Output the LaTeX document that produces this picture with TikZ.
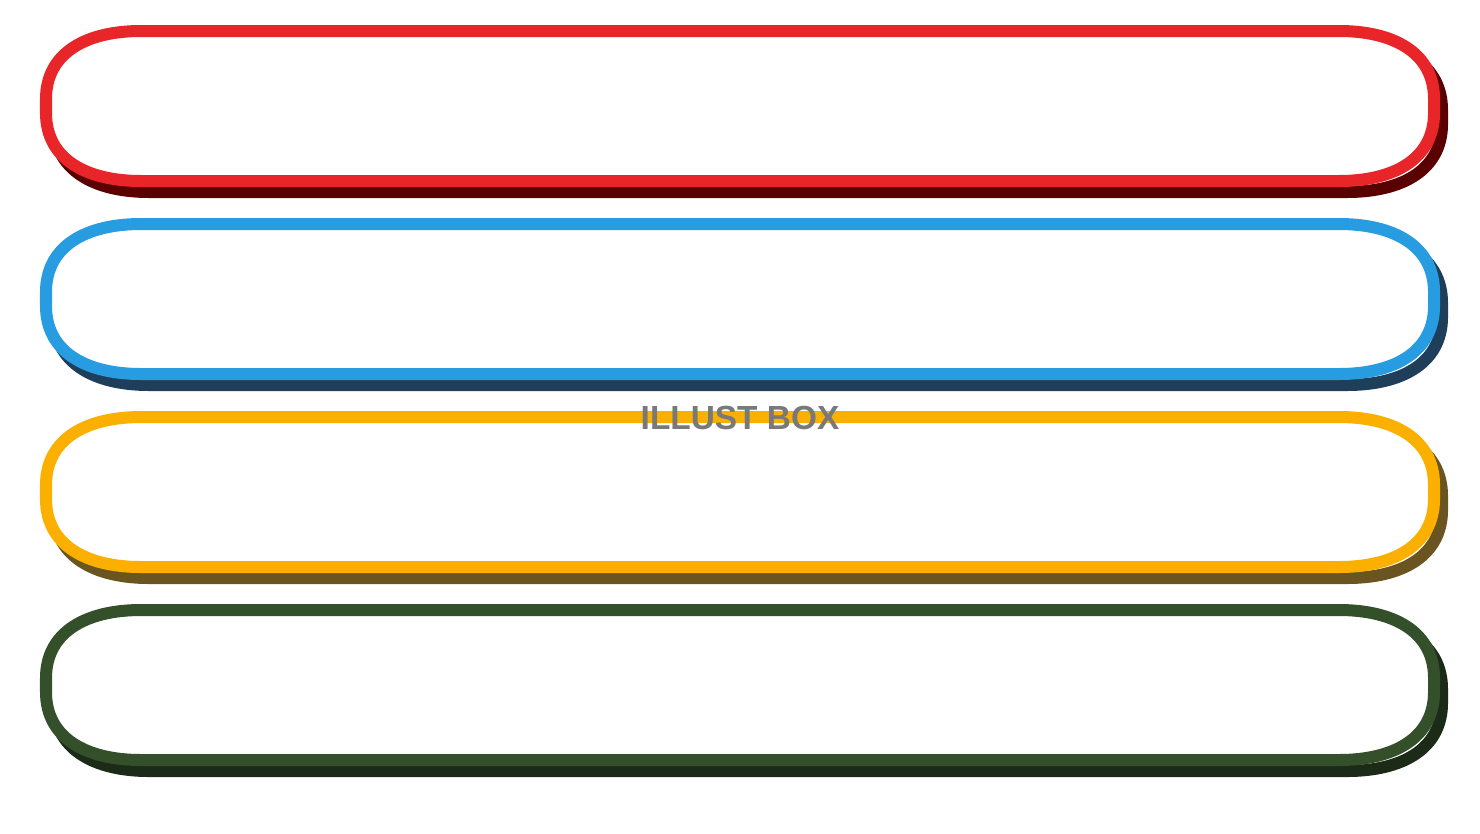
\documentclass[tikz,border=0pt]{standalone}
\usepackage{fontspec}
\setmainfont{Liberation Sans}
\usepackage{tikz}

\definecolor{redline}{HTML}{E8262A}
\definecolor{redshade}{HTML}{5A0000}
\definecolor{blueline}{HTML}{279CE0}
\definecolor{blueshade}{HTML}{1F3E5A}
\definecolor{yellowline}{HTML}{FBB000}
\definecolor{yellowshade}{HTML}{6A5520}
\definecolor{greenline}{HTML}{33502B}
\definecolor{greenshade}{HTML}{1C2A18}

% rounded frame from (#1,#2) to (#3,#4)
\newcommand{\framepath}[4]{
	(#1+95,#2) -- (#3-95,#2)
	.. controls (#3-40,#2) and (#3,#2+22) .. (#3,#2+68)
	-- (#3,#4-68)
	.. controls (#3,#4-22) and (#3-40,#4) .. (#3-95,#4)
	-- (#1+95,#4)
	.. controls (#1+40,#4) and (#1,#4-22) .. (#1,#4-68)
	-- (#1,#2+68)
	.. controls (#1,#2+22) and (#1+40,#2) .. (#1+95,#2) -- cycle
}

\tikzset{
	frameline/.style={line width=0.12cm, line join=round},
}

\begin{document}
\begin{tikzpicture}[x=0.01cm,y=-0.01cm]
		\useasboundingbox (0,0) rectangle (1480,833);
		
		\foreach \top/\col in {31/red, 224/blue, 417/yellow, 610/green}{
			% shadow
			\draw[frameline, draw=\col shade] \framepath{54}{\top+11}{1442}{\top+161};
			
			% frame
			\fill[white] \framepath{46}{\top}{1434}{\top+150};
			\draw[frameline, draw=\col line] \framepath{46}{\top}{1434}{\top+150};
		}
		
		\node[text=gray!95!black, font=\bfseries\fontsize{9.5}{11}\selectfont] (mark) at (740,418) {ILLUST BOX};
	\end{tikzpicture}
\end{document}
